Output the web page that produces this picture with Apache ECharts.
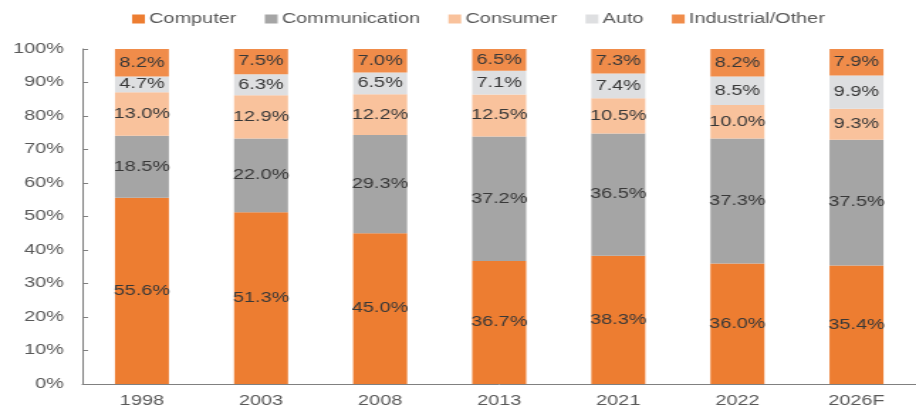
<!DOCTYPE html>
<html>
<head>
<meta charset="utf-8">
<script src="https://cdn.jsdelivr.net/npm/echarts@6/dist/echarts.min.js"></script>
<style>
  html, body { margin: 0; padding: 0; background: #ffffff; overflow: hidden; }
  /* The chart is laid out on a narrower canvas and widened to the full
     916px page, which gives the wide, flattened lettering of the original. */
  #chart {
    width: 645px;
    height: 413px;
    transform: scaleX(1.4202);
    transform-origin: 0 0;
  }
</style>
</head>
<body>
<div id="chart"></div>
<script>
// Share of demand by end market (%), stacked per year
const years = ['1998', '2003', '2008', '2013', '2021', '2022', '2026F'];
const computer      = [55.6, 51.3, 45.0, 36.7, 38.3, 36.0, 35.4];
const communication = [18.5, 22.0, 29.3, 37.2, 36.5, 37.3, 37.5];
const consumer      = [13.0, 12.9, 12.2, 12.5, 10.5, 10.0, 9.3];
const auto          = [4.7, 6.3, 6.5, 7.1, 7.4, 8.5, 9.9];
const industrial    = [8.2, 7.5, 7.0, 6.5, 7.3, 8.2, 7.9];
const yTicks = [0, 10, 20, 30, 40, 50, 60, 70, 80, 90, 100];

const seriesDefs = [
  { name: 'Computer',          data: computer,      color: '#ED7D31' },
  { name: 'Communication',     data: communication, color: '#A5A5A5' },
  { name: 'Consumer',          data: consumer,      color: '#F9C29C' },
  { name: 'Auto',              data: auto,          color: '#DEDFE1' },
  { name: 'Industrial/Other',  data: industrial,    color: '#F08C4A' }
];

const FONT = 'Liberation Sans';
const axisColor = '#808080';

const chart = echarts.init(document.getElementById('chart'), null, { renderer: 'canvas' });
chart.setOption({
  animation: false,
  backgroundColor: '#ffffff',
  legend: {
    top: 7,
    left: 88,
    itemWidth: 9,
    itemHeight: 9,
    itemGap: 20,
    icon: 'rect',
    textStyle: { fontFamily: FONT, fontSize: 14, color: '#595959', padding: [0, 0, 0, -2] },
    data: seriesDefs.map(s => s.name)
  },
  grid: { left: 58, right: -3, top: 49, bottom: 29, containLabel: false },
  xAxis: {
    type: 'category',
    data: years,
    axisLine: { lineStyle: { color: axisColor, width: 1 } },
    axisTick: { inside: true, length: 4, lineStyle: { color: axisColor } },
    axisLabel: { margin: 10, fontFamily: FONT, fontSize: 14, color: '#595959' }
  },
  yAxis: {
    type: 'value',
    min: yTicks[0],
    max: yTicks[yTicks.length - 1],
    interval: 10,
    axisLine: { show: true, lineStyle: { color: axisColor, width: 1 } },
    axisTick: { show: true, inside: true, length: 4, lineStyle: { color: axisColor } },
    splitLine: { show: false },
    axisLabel: {
      margin: 13,
      fontFamily: FONT,
      fontSize: 14,
      color: '#595959',
      formatter: v => v + '%'
    }
  },
  series: seriesDefs.map(s => ({
    name: s.name,
    type: 'bar',
    stack: 'share',
    barWidth: 38,
    data: s.data,
    itemStyle: { color: s.color },
    label: {
      show: true,
      position: 'inside',
      formatter: p => p.value.toFixed(1) + '%',
      fontFamily: FONT,
      fontSize: 14,
      color: '#383838'
    }
  }))
});
</script>
</body>
</html>
